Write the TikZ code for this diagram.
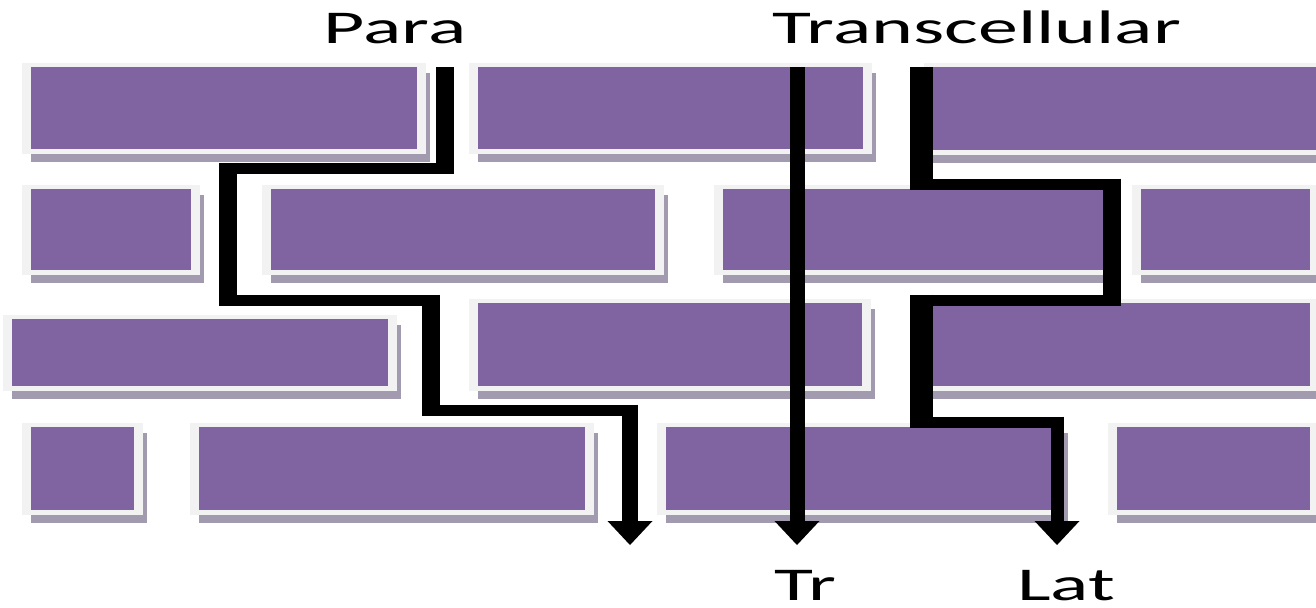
\documentclass[tikz,border=0pt]{standalone}
\usepackage{fontspec}
\setmainfont{Carlito}
\usetikzlibrary{arrows.meta}

\definecolor{brickfill}{HTML}{8064A2}
\definecolor{brickedge}{HTML}{F2F2F2}
\definecolor{brickshade}{HTML}{A29AAE}

% one brick: shadow, pale rim, purple face (corners of the face given)
\newcommand{\wallbrick}[4]{%
  \fill[brickshade] (#1,#2+6) rectangle (#3+13,#4+13);
  \fill[brickedge] (#1-9,#2-4) rectangle (#3+9,#4+5);
  \fill[brickfill] (#1,#2) rectangle (#3,#4);}

\tikzset{
  flow/.style={draw=black, line width=5.5pt, line join=miter},
  tipped/.style={-{Triangle[width=22.5pt,length=12pt,line width=0pt]}},
  lbl/.style={font=\fontsize{23.5}{28}\selectfont, inner sep=0pt, anchor=base, xscale=1.7, text=black}
}

\begin{document}
\begin{tikzpicture}[x=0.5pt,y=-0.5pt]
\useasboundingbox (0,0) rectangle (1316,607);
\fill[white] (0,0) rectangle (1316,607);
\clip (0,0) rectangle (1316,607);

% brick wall, row by row
\wallbrick{31}{67}{417}{149}
\wallbrick{478}{67}{863}{149}
\wallbrick{933}{67}{1340}{150}

\wallbrick{31}{189}{191}{270}
\wallbrick{271}{189}{655}{270}
\wallbrick{723}{189}{1108}{270}
\wallbrick{1141}{189}{1310}{270}

\wallbrick{12}{319}{388}{386}
\wallbrick{478}{303}{862}{386}
\wallbrick{933}{303}{1310}{386}

\wallbrick{31}{427}{134}{510}
\wallbrick{199}{427}{585}{510}
\wallbrick{666}{427}{1055}{510}
\wallbrick{1117}{427}{1310}{510}

% paracellular route
\coordinate (p0) at (445,67);
\coordinate (p1) at (445,168);
\coordinate (p2) at (228,168);
\coordinate (p3) at (228,300);
\coordinate (p4) at (431,300);
\coordinate (p5) at (431,410);
\coordinate (p6) at (630,410);
\coordinate (p7) at (630,545);
\draw[flow, tipped] (p0) -- (p1) -- (p2) -- (p3) -- (p4) -- (p5) -- (p6) -- (p7);
\draw[flow, line width=9pt, shorten >=-2.75pt] (p0) -- (p1);
\draw[flow, line width=9pt, shorten <=-2.75pt, shorten >=-2.75pt] (p2) -- (p3);
\draw[flow, line width=9pt, shorten <=-2.75pt, shorten >=-2.75pt] (p4) -- (p5);
\draw[flow, line width=8pt, shorten <=-2.75pt, shorten >=12pt] (p6) -- (p7);

% straight transcellular route
\coordinate (t0) at (797,67);
\coordinate (t1) at (797,545);
\draw[flow, line width=7.5pt, tipped] (t0) -- (t1);

% lateral route
\coordinate (l0) at (921,67);
\coordinate (l1) at (921,184);
\coordinate (l2) at (1112,184);
\coordinate (l3) at (1112,300);
\coordinate (l4) at (921,300);
\coordinate (l5) at (921,422);
\coordinate (l6) at (1057,422);
\coordinate (l7) at (1057,545);
\draw[flow, tipped] (l0) -- (l1) -- (l2) -- (l3) -- (l4) -- (l5) -- (l6) -- (l7);
\draw[flow, line width=11.5pt, shorten >=-2.75pt] (l0) -- (l1);
\draw[flow, line width=9pt, shorten <=-2.75pt, shorten >=-2.75pt] (l2) -- (l3);
\draw[flow, line width=11.5pt, shorten <=-2.75pt, shorten >=-2.75pt] (l4) -- (l5);
\draw[flow, line width=6.5pt, shorten <=-2.75pt, shorten >=12pt] (l6) -- (l7);

% labels
\node[lbl] (para) at (395,43) {Para};
\node[lbl] (trans) at (977,43) {Transcellular};
\node[lbl] (tr) at (805,600) {Tr};
\node[lbl] (lat) at (1066,600) {Lat};
\end{tikzpicture}
\end{document}
